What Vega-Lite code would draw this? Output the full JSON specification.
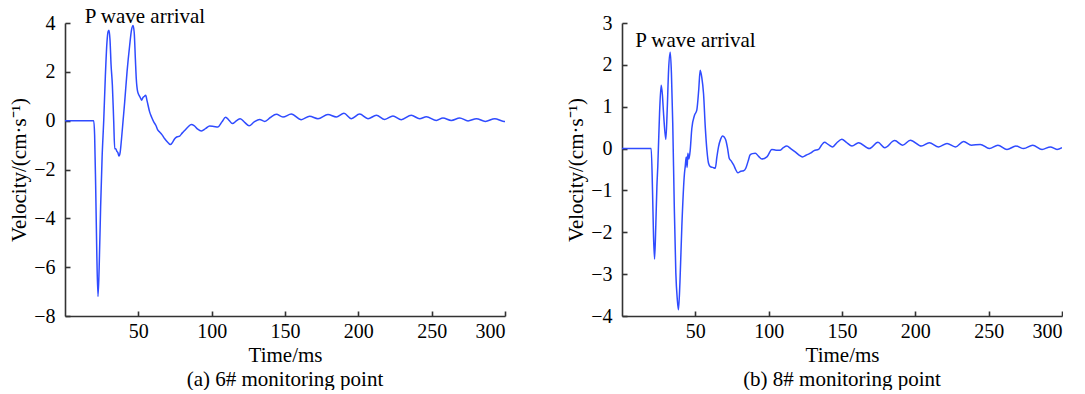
{
  "$schema": "https://vega.github.io/schema/vega-lite/v6.json",
  "padding": {"left": 8, "top": 6, "right": 0, "bottom": 0},
  "background": "white",
  "bounds": "flush",
  "spacing": 117,
  "config": {
    "font": "Liberation Serif, Times New Roman, serif",
    "view": {"stroke": null},
    "axis": {
      "grid": false,
      "domainColor": "#333333",
      "domainWidth": 1.6,
      "tickColor": "#333333",
      "tickWidth": 1.6,
      "tickSize": -5,
      "labelFont": "Liberation Serif, Times New Roman, serif",
      "labelFontSize": 20,
      "labelColor": "#000000",
      "titleFont": "Liberation Serif, Times New Roman, serif",
      "titleFontSize": 21,
      "titleFontWeight": "normal",
      "titleColor": "#000000"
    },
    "title": {"font": "Liberation Serif, Times New Roman, serif", "fontSize": 21, "fontWeight": "normal", "color": "#000000"}
  },
  "datasets": {
    "a": [
      {"t": 0, "v": 0}, {"t": 19.6, "v": 0}, {"t": 20.2, "v": -0.6}, {"t": 20.9, "v": -2.65}, {"t": 21.7, "v": -5.5},
      {"t": 22.5, "v": -7.2}, {"t": 23.3, "v": -6.0}, {"t": 24.3, "v": -3.5}, {"t": 25.3, "v": -1.5}, {"t": 26.4, "v": 0},
      {"t": 27.5, "v": 1.8}, {"t": 28.6, "v": 3.2}, {"t": 29.4, "v": 3.65}, {"t": 30, "v": 3.7}, {"t": 30.7, "v": 3.3},
      {"t": 31.4, "v": 2.3}, {"t": 32.3, "v": 1.45}, {"t": 33.2, "v": 0}, {"t": 33.9, "v": -1.15}, {"t": 34.6, "v": -1.15},
      {"t": 35.3, "v": -1.25}, {"t": 36, "v": -1.3}, {"t": 36.8, "v": -1.45}, {"t": 37.6, "v": -1.3}, {"t": 38.6, "v": -0.7},
      {"t": 39.6, "v": 0}, {"t": 40.7, "v": 0.77}, {"t": 42.3, "v": 2.0}, {"t": 44.1, "v": 3.09}, {"t": 45.3, "v": 3.7},
      {"t": 46.4, "v": 3.9}, {"t": 47.2, "v": 3.6}, {"t": 48.0, "v": 2.5}, {"t": 48.6, "v": 1.72}, {"t": 49.5, "v": 1.2},
      {"t": 50.5, "v": 1.04}, {"t": 51.3, "v": 0.95}, {"t": 52.2, "v": 0.84}, {"t": 53.2, "v": 0.95}, {"t": 54.2, "v": 1.0},
      {"t": 55, "v": 1.04}, {"t": 56, "v": 0.8}, {"t": 57.7, "v": 0.36}, {"t": 59, "v": 0.15}, {"t": 60.5, "v": -0.05},
      {"t": 62, "v": -0.2}, {"t": 63.2, "v": -0.38}, {"t": 64.5, "v": -0.46}, {"t": 66.2, "v": -0.58}, {"t": 68, "v": -0.74},
      {"t": 70, "v": -0.88}, {"t": 71.8, "v": -0.98}, {"t": 73.2, "v": -0.9}, {"t": 74.8, "v": -0.74}, {"t": 76.5, "v": -0.66},
      {"t": 78.2, "v": -0.63}, {"t": 80, "v": -0.5}, {"t": 81.6, "v": -0.4}, {"t": 84, "v": -0.25}, {"t": 86.1, "v": -0.16},
      {"t": 88, "v": -0.2}, {"t": 90.5, "v": -0.35}, {"t": 93, "v": -0.42}, {"t": 96, "v": -0.32}, {"t": 98.6, "v": -0.22},
      {"t": 101.5, "v": -0.24}, {"t": 104.3, "v": -0.26}, {"t": 107, "v": -0.05}, {"t": 109.5, "v": 0.14}, {"t": 111.8, "v": 0.02},
      {"t": 114.1, "v": -0.12}, {"t": 117, "v": 0}, {"t": 119.5, "v": 0.08}, {"t": 122.7, "v": -0.08}, {"t": 125.5, "v": -0.21},
      {"t": 129, "v": -0.05}, {"t": 132.7, "v": 0.05}, {"t": 136.2, "v": -0.03}, {"t": 140, "v": 0.13}, {"t": 144.1, "v": 0.26},
      {"t": 148.6, "v": 0.15}, {"t": 154.3, "v": 0.27}, {"t": 161.1, "v": 0.04}, {"t": 166.8, "v": 0.18}, {"t": 172.5, "v": 0.08},
      {"t": 179.3, "v": 0.25}, {"t": 185, "v": 0.15}, {"t": 190.2, "v": 0.3}, {"t": 195.2, "v": 0.08}, {"t": 200.9, "v": 0.27},
      {"t": 206.6, "v": 0.08}, {"t": 212.3, "v": 0.22}, {"t": 218, "v": 0.05}, {"t": 223.6, "v": 0.19}, {"t": 229.3, "v": 0.04},
      {"t": 236.1, "v": 0.22}, {"t": 241.8, "v": 0.08}, {"t": 246.4, "v": 0.16}, {"t": 253.2, "v": 0.01}, {"t": 257.7, "v": 0.11},
      {"t": 263.4, "v": 0.01}, {"t": 269.1, "v": 0.11}, {"t": 274.8, "v": -0.01}, {"t": 280.5, "v": 0.08}, {"t": 286.6, "v": -0.03},
      {"t": 293, "v": 0.08}, {"t": 299.3, "v": -0.03}, {"t": 300, "v": -0.03}
    ],
    "b": [
      {"t": 0, "v": 0}, {"t": 19.9, "v": 0}, {"t": 20.8, "v": -0.99}, {"t": 21.5, "v": -2.1}, {"t": 22.2, "v": -2.64},
      {"t": 23, "v": -1.9}, {"t": 23.8, "v": -0.9}, {"t": 24.4, "v": -0.43}, {"t": 25.6, "v": 0.84}, {"t": 26.7, "v": 1.51},
      {"t": 27.5, "v": 1.3}, {"t": 28.4, "v": 0.8}, {"t": 29.9, "v": 0.22}, {"t": 30.8, "v": 0.9}, {"t": 31.8, "v": 1.9},
      {"t": 32.9, "v": 2.3}, {"t": 33.7, "v": 1.8}, {"t": 34.6, "v": 0.6}, {"t": 35.6, "v": -1.3}, {"t": 36.7, "v": -2.97},
      {"t": 37.7, "v": -3.6}, {"t": 38.5, "v": -3.85}, {"t": 39.5, "v": -3.2}, {"t": 40.8, "v": -1.86}, {"t": 42.6, "v": -0.59},
      {"t": 43.1, "v": -0.43}, {"t": 43.8, "v": -0.2}, {"t": 44.4, "v": -0.45}, {"t": 44.9, "v": -0.11}, {"t": 45.6, "v": -0.25},
      {"t": 46.5, "v": -0.04}, {"t": 47.6, "v": 0.48}, {"t": 49.5, "v": 0.8}, {"t": 51, "v": 0.92}, {"t": 52.3, "v": 1.4},
      {"t": 53.3, "v": 1.87}, {"t": 54.4, "v": 1.7}, {"t": 55.6, "v": 1.31}, {"t": 56.8, "v": 0.5}, {"t": 57.9, "v": -0.04},
      {"t": 59, "v": -0.35}, {"t": 60.2, "v": -0.43}, {"t": 61.9, "v": -0.45}, {"t": 63.6, "v": -0.47}, {"t": 64.7, "v": -0.2},
      {"t": 65.8, "v": 0.04}, {"t": 67.2, "v": 0.22}, {"t": 68.6, "v": 0.3}, {"t": 69.8, "v": 0.27}, {"t": 70.8, "v": 0.2},
      {"t": 72, "v": 0}, {"t": 73.1, "v": -0.23}, {"t": 74.5, "v": -0.3}, {"t": 76.1, "v": -0.39}, {"t": 77.5, "v": -0.5},
      {"t": 79, "v": -0.58}, {"t": 81, "v": -0.54}, {"t": 82.9, "v": -0.53}, {"t": 84.4, "v": -0.47}, {"t": 86, "v": -0.3},
      {"t": 87.4, "v": -0.15}, {"t": 89, "v": -0.12}, {"t": 90.9, "v": -0.11}, {"t": 93, "v": -0.18}, {"t": 95.4, "v": -0.25},
      {"t": 98.8, "v": -0.2}, {"t": 102.2, "v": -0.02}, {"t": 105, "v": -0.04}, {"t": 107.9, "v": -0.04}, {"t": 110, "v": 0.02},
      {"t": 112.4, "v": 0.06}, {"t": 115, "v": 0}, {"t": 118.1, "v": -0.08}, {"t": 120.5, "v": -0.15}, {"t": 123.1, "v": -0.2},
      {"t": 125.5, "v": -0.16}, {"t": 128.4, "v": -0.11}, {"t": 131, "v": -0.05}, {"t": 134, "v": -0.02}, {"t": 136, "v": 0.08},
      {"t": 138.1, "v": 0.15}, {"t": 140.5, "v": 0.1}, {"t": 143.6, "v": 0.04}, {"t": 146.5, "v": 0.14}, {"t": 149.9, "v": 0.22},
      {"t": 153, "v": 0.15}, {"t": 156.8, "v": 0.06}, {"t": 161.3, "v": 0.14}, {"t": 168.6, "v": 0}, {"t": 174.5, "v": 0.15},
      {"t": 179.1, "v": 0.02}, {"t": 185.9, "v": 0.19}, {"t": 191.3, "v": 0.08}, {"t": 196.6, "v": 0.2}, {"t": 204.1, "v": 0.06},
      {"t": 209.5, "v": 0.14}, {"t": 215.9, "v": 0.04}, {"t": 221.6, "v": 0.12}, {"t": 227.3, "v": 0.04}, {"t": 232.9, "v": 0.17},
      {"t": 238.2, "v": 0.08}, {"t": 244.3, "v": 0.1}, {"t": 250.5, "v": 0}, {"t": 256.3, "v": 0.08}, {"t": 262.5, "v": -0.02},
      {"t": 268.6, "v": 0.06}, {"t": 273.9, "v": 0}, {"t": 280, "v": 0.08}, {"t": 286.4, "v": -0.02}, {"t": 292.1, "v": 0.04},
      {"t": 296.6, "v": -0.02}, {"t": 300, "v": 0.02}
    ],
    "la": [{"t": 13.4, "v": 4.0, "label": "P wave arrival"}],
    "lb": [{"t": 9.0, "v": 2.42, "label": "P wave arrival"}]
  },
  "hconcat": [
    {
      "width": 440,
      "height": 293,
      "title": {"text": "(a) 6# monitoring point", "orient": "bottom", "anchor": "middle", "frame": "group", "offset": 4},
      "layer": [
        {
          "data": {"name": "a"},
          "mark": {"type": "line", "color": "#2f4bff", "strokeWidth": 1.5, "interpolate": "monotone", "clip": true},
          "encoding": {
            "x": {"field": "t", "type": "quantitative", "scale": {"domain": [0, 300], "nice": false, "zero": false},
                  "axis": {"title": "Time/ms", "values": [50, 100, 150, 200, 250, 300], "labelPadding": 10, "titlePadding": 3,
                           "labelFont": "Times New Roman, serif", "titleFont": "Times New Roman, serif"}},
            "y": {"field": "v", "type": "quantitative", "scale": {"domain": [-8, 4], "nice": false, "zero": false},
                  "axis": {"title": "Velocity/(cm·s⁻¹)", "values": [-8, -6, -4, -2, 0, 2, 4], "labelPadding": 15, "titlePadding": 4,
                           "labelFont": "Times New Roman, serif", "titleFont": "Times New Roman, serif"}}
          }
        },
        {
          "data": {"name": "la"},
          "mark": {"type": "text", "align": "left", "baseline": "alphabetic", "fontSize": 21, "font": "Times New Roman, serif", "color": "#000000"},
          "encoding": {
            "x": {"field": "t", "type": "quantitative"},
            "y": {"field": "v", "type": "quantitative"},
            "text": {"field": "label"}
          }
        }
      ]
    },
    {
      "width": 440,
      "height": 293,
      "title": {"text": "(b) 8# monitoring point", "orient": "bottom", "anchor": "middle", "frame": "group", "offset": 4},
      "layer": [
        {
          "data": {"name": "b"},
          "mark": {"type": "line", "color": "#2f4bff", "strokeWidth": 1.5, "interpolate": "monotone", "clip": true},
          "encoding": {
            "x": {"field": "t", "type": "quantitative", "scale": {"domain": [0, 300], "nice": false, "zero": false},
                  "axis": {"title": "Time/ms", "values": [50, 100, 150, 200, 250, 300], "labelPadding": 10, "titlePadding": 3,
                           "labelFont": "Times New Roman, serif", "titleFont": "Times New Roman, serif"}},
            "y": {"field": "v", "type": "quantitative", "scale": {"domain": [-4, 3], "nice": false, "zero": false},
                  "axis": {"title": "Velocity/(cm·s⁻¹)", "values": [-4, -3, -2, -1, 0, 1, 2, 3], "labelPadding": 15, "titlePadding": 4,
                           "labelFont": "Times New Roman, serif", "titleFont": "Times New Roman, serif"}}
          }
        },
        {
          "data": {"name": "lb"},
          "mark": {"type": "text", "align": "left", "baseline": "alphabetic", "fontSize": 21, "font": "Times New Roman, serif", "color": "#000000"},
          "encoding": {
            "x": {"field": "t", "type": "quantitative"},
            "y": {"field": "v", "type": "quantitative"},
            "text": {"field": "label"}
          }
        }
      ]
    }
  ]
}
